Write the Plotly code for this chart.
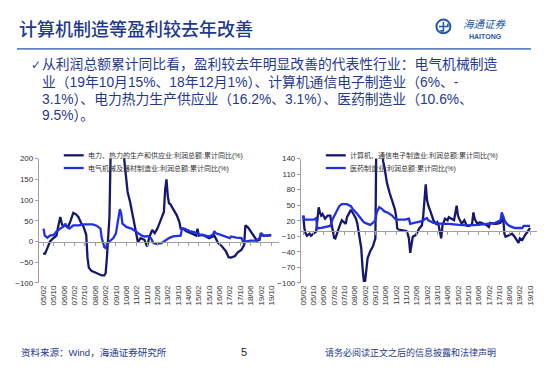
import plotly.graph_objects as go

# ---------------- data ----------------
tick_labels = ["05/02", "05/10", "06/06", "07/02", "07/10", "08/06", "09/02", "09/10",
               "10/06", "11/02", "11/10", "12/06", "13/02", "13/10", "14/06", "15/02",
               "15/10", "16/06", "17/02", "17/10", "18/06", "19/02", "19/10"]
left_y_ticks = [-100, -50, 0, 50, 100, 150, 200]
right_y_ticks = [-100, -70, -40, -10, 20, 50, 80, 110, 140]

name_power = "电力、热力的生产和供应业:利润总额:累计同比(%)"
name_elec = "电气机械及器材制造业:利润总额:累计同比(%)"
name_comp = "计算机、通信电子制造业:利润总额:累计同比(%)"
name_pharm = "医药制造业:利润总额:累计同比(%)"

power_dates = ["2005-02", "2005-03", "2005-05", "2005-07", "2005-10", "2005-12", "2006-01", "2006-03",
               "2006-04", "2006-05", "2006-07", "2006-09", "2006-11", "2007-01", "2007-03", "2007-05",
               "2007-07", "2007-09", "2007-11", "2007-12", "2008-01", "2008-03", "2008-06", "2008-08",
               "2008-11", "2009-01", "2009-02", "2009-03", "2009-04", "2009-05", "2009-07", "2009-10",
               "2010-01", "2010-04", "2010-06", "2010-07", "2010-09", "2010-11", "2011-01", "2011-02",
               "2011-03", "2011-05", "2011-08", "2011-10", "2011-12", "2012-02", "2012-04", "2012-06",
               "2012-09", "2012-11", "2012-12", "2013-01", "2013-02", "2013-03", "2013-04", "2013-06",
               "2013-09", "2013-11", "2013-12", "2014-02", "2014-04", "2014-08", "2014-12", "2015-01",
               "2015-02", "2015-05", "2015-08", "2015-10", "2016-01", "2016-02", "2016-05", "2016-08",
               "2016-11", "2017-01", "2017-03", "2017-06", "2017-08", "2017-11", "2018-01", "2018-02",
               "2018-04", "2018-06", "2018-09", "2018-11", "2019-01", "2019-02", "2019-04", "2019-07",
               "2019-10"]
power_vals = [-27, -31, -16, 0, 9, 14, 31, 59,
              45, 36, 39, 35, 51, 69, 66, 59,
              45, 35, 16, -39, -63, -71, -75, -78,
              -82, -82, -76, -40, 0, 60, 400, 500,
              450, 210, 150, 120, 94, 63, 31, 12,
              -2, 8, 4, -12, 12, 28, 20, 31,
              55, 71, 125, 150, 110, 92, 90, 78,
              63, 47, 31, 31, 25, 20, 14, 31,
              14, 16, 12, 8, 12, 14, -4, -12,
              -24, -38, -39, -35, -27, -20, -9, 39,
              34, 24, 12, 2, 4, 20, 14, 14,
              16]

elec_dates = ["2005-02", "2005-03", "2005-05", "2005-07", "2005-10", "2005-12", "2006-03", "2006-05",
              "2006-07", "2006-08", "2006-10", "2007-01", "2007-05", "2007-09", "2008-01", "2008-04",
              "2008-07", "2008-10", "2008-11", "2009-01", "2009-02", "2009-03", "2009-05", "2009-08",
              "2009-10", "2009-12", "2010-01", "2010-02", "2010-03", "2010-06", "2010-10", "2010-12",
              "2011-03", "2011-06", "2011-08", "2011-11", "2012-01", "2012-03", "2012-05", "2012-09",
              "2013-01", "2013-03", "2013-06", "2013-10", "2013-12", "2014-01", "2014-03", "2014-07",
              "2014-11", "2015-02", "2015-06", "2015-10", "2016-01", "2016-02", "2016-03", "2016-07",
              "2016-11", "2017-02", "2017-03", "2017-07", "2017-11", "2018-01", "2018-02", "2018-06",
              "2018-10", "2019-01", "2019-02", "2019-03", "2019-07", "2019-10"]
elec_vals = [31, 14, 9, 14, 16, 24, 31, 35,
             43, 35, 31, 39, 39, 41, 41, 41,
             38, 31, 8, -14, -16, -8, 0, 8,
             20, 55, 78, 67, 43, 35, 31, 27,
             20, 14, 12, 13, 8, -4, -6, -4,
             4, 8, 12, 14, 14, 31, 31, 25,
             22, 17, 14, 12, 17, 25, 20, 16,
             12, 8, 12, 9, 8, -6, 0, 2,
             2, 8, 20, 14, 14, 15]

comp_dates = ["2005-02", "2005-03", "2005-04", "2005-05", "2005-07", "2005-08", "2005-10", "2005-12",
              "2006-01", "2006-02", "2006-03", "2006-04", "2006-05", "2006-07", "2006-09", "2006-11",
              "2006-12", "2007-02", "2007-03", "2007-04", "2007-06", "2007-08", "2007-10", "2007-11",
              "2007-12", "2008-02", "2008-03", "2008-05", "2008-07", "2008-08", "2008-09", "2008-11",
              "2008-12", "2009-01", "2009-02", "2009-03", "2009-04", "2009-06", "2009-08", "2009-10",
              "2009-11", "2010-01", "2010-03", "2010-04", "2010-05", "2010-07", "2010-09", "2010-11",
              "2011-01", "2011-02", "2011-03", "2011-04", "2011-06", "2011-08", "2011-10", "2011-11",
              "2011-12", "2012-01", "2012-02", "2012-03", "2012-05", "2012-06", "2012-08", "2012-10",
              "2012-11", "2013-01", "2013-02", "2013-03", "2013-05", "2013-06", "2013-07", "2013-09",
              "2013-10", "2013-11", "2013-12", "2014-01", "2014-02", "2014-04", "2014-06", "2014-07",
              "2014-09", "2014-11", "2015-01", "2015-02", "2015-03", "2015-05", "2015-07", "2015-09",
              "2015-11", "2016-01", "2016-02", "2016-03", "2016-05", "2016-07", "2016-10", "2016-12",
              "2017-02", "2017-03", "2017-06", "2017-08", "2017-11", "2017-12", "2018-01", "2018-02",
              "2018-03", "2018-05", "2018-08", "2018-10", "2018-12", "2019-01", "2019-02", "2019-04",
              "2019-06", "2019-07", "2019-10"]
comp_vals = [30, 5, -5, -9, -5, -9, -5, -1,
             21, 46, 36, 30, 33, 24, 30, 30,
             14, -13, -14, -5, 8, 21, 17, 14,
             27, 39, 41, 33, 24, 14, -1, -33,
             -70, -96, -96, -70, -52, -39, -30, -14,
             250, 300, 200, 135, 124, 93, 74, 58,
             43, 30, 5, 3, 2, 2, 0, -5,
             -14, -42, -20, -11, -8, -5, 5, 11,
             27, 90, 60, 50, 36, 30, 21, 14,
             17, 11, -1, -14, 11, 24, 21, 27,
             24, 21, 49, 30, 24, 14, 21, 10,
             10, 14, 36, 24, 14, 17, 14, 12,
             8, 16, 14, 14, 16, 21, 30, -5,
             -11, -9, -5, -11, -20, -23, -14, -17,
             -8, -5, 6]

pharm_dates = ["2005-02", "2005-03", "2005-07", "2005-10", "2005-12", "2006-01", "2006-04", "2006-07",
               "2006-11", "2007-01", "2007-03", "2007-06", "2007-08", "2007-12", "2008-03", "2008-05",
               "2008-08", "2008-11", "2009-01", "2009-04", "2009-06", "2009-08", "2009-10", "2009-11",
               "2010-01", "2010-03", "2010-05", "2010-08", "2010-11", "2011-01", "2011-03", "2011-06",
               "2011-09", "2011-12", "2012-01", "2012-04", "2012-06", "2012-10", "2013-01", "2013-02",
               "2013-03", "2013-07", "2014-02", "2014-07", "2015-03", "2015-10", "2016-06", "2017-02",
               "2017-07", "2017-11", "2017-12", "2018-02", "2018-04", "2018-06", "2018-10", "2019-04",
               "2019-05", "2019-10"]
pharm_vals = [30, 22, 22, 22, 25, 5, 6, 8,
              10, 24, 33, 48, 52, 52, 48, 41,
              33, 24, 17, 14, 12, 16, 21, 36,
              46, 43, 38, 35, 30, 24, 22, 22,
              22, 24, 14, 16, 17, 19, 24, 25,
              21, 16, 14, 14, 12, 11, 12, 14,
              16, 21, 36, 21, 14, 10, 6, 6,
              10, 10]

# ---------------- styling ----------------
W, H = 550, 379
DARK = "#16176F"
BLUE = "#2230E6"
AXIS = "#A0A0A0"
TXT = "#1F3A8F"
LOGO = "#2459A8"
CJK = "Liberation Sans, Noto Sans CJK SC"


def px(X):
    return X / W


def py(Y):
    return 1 - Y / H


tick_vals = ["20%s-%s-01" % (t[:2], t[3:]) for t in tick_labels]
left_range = ["2004-10-13", "2020-04-01"]
right_range = ["2004-12-08", "2020-03-13"]
tickfont = dict(size=8, color="#333333", family="Liberation Sans, Arial")

fig = go.Figure()
fig.add_trace(go.Scatter(x=power_dates, y=power_vals, name=name_power, mode="lines",
                         line=dict(color=DARK, width=2.3), xaxis="x", yaxis="y", showlegend=False))
fig.add_trace(go.Scatter(x=elec_dates, y=elec_vals, name=name_elec, mode="lines",
                         line=dict(color=BLUE, width=2.3), xaxis="x", yaxis="y", showlegend=False))
fig.add_trace(go.Scatter(x=comp_dates, y=comp_vals, name=name_comp, mode="lines",
                         line=dict(color=DARK, width=2.3), xaxis="x2", yaxis="y2", showlegend=False))
fig.add_trace(go.Scatter(x=pharm_dates, y=pharm_vals, name=name_pharm, mode="lines",
                         line=dict(color=BLUE, width=2.3), xaxis="x2", yaxis="y2", showlegend=False))
# empty traces so the zero-line axes are drawn
fig.add_trace(go.Scatter(x=[], y=[], xaxis="x3", yaxis="y", showlegend=False, hoverinfo="skip"))
fig.add_trace(go.Scatter(x=[], y=[], xaxis="x4", yaxis="y2", showlegend=False, hoverinfo="skip"))

ydom = [py(285.7), py(158.3)]

label_axis = dict(type="date", tickmode="array", tickvals=tick_vals, ticktext=tick_labels,
                  tickangle=-90, showline=False, showgrid=False, zeroline=False, ticks="",
                  tickfont=tickfont)
zero_axis = dict(type="date", tickmode="array", tickvals=tick_vals, showticklabels=False,
                 showline=True, linecolor=AXIS, linewidth=1, ticks="outside", ticklen=3,
                 tickcolor=AXIS, showgrid=False, zeroline=False, anchor="free")
y_axis = dict(showline=True, linecolor=AXIS, linewidth=1, ticks="outside", ticklen=3,
              tickcolor=AXIS, showgrid=False, zeroline=False, tickfont=tickfont)

fig.update_layout(
    width=W, height=H, autosize=False,
    margin=dict(l=0, r=0, t=0, b=0),
    paper_bgcolor="white", plot_bgcolor="white",
    xaxis=dict(label_axis, domain=[px(37), px(278)], anchor="y", range=left_range),
    yaxis=dict(y_axis, domain=ydom, anchor="x", range=[-100, 200], tickmode="array",
               tickvals=left_y_ticks),
    xaxis3=dict(zero_axis, overlaying="x", position=py(243.3), range=left_range),
    xaxis2=dict(label_axis, domain=[px(300), px(537)], anchor="y2", range=right_range),
    yaxis2=dict(y_axis, domain=ydom, anchor="x2", range=[-100, 140], tickmode="array",
                tickvals=right_y_ticks),
    xaxis4=dict(zero_axis, overlaying="x2", position=py(232.6), range=right_range),
)

shapes = []
annos = []

# header
annos.append(dict(x=px(15), y=py(25), xref="paper", yref="paper", xanchor="left", yanchor="middle",
                  text="计算机制造等盈利较去年改善", showarrow=False,
                  font=dict(size=18, color=TXT, family="Noto Sans CJK SC", weight=500)))
shapes.append(dict(type="line", xref="paper", yref="paper", x0=px(15), x1=px(531), y0=py(46), y1=py(46),
                   line=dict(color="#5F84BF", width=1.6)))
# logo
shapes.append(dict(type="circle", xref="paper", yref="paper", x0=px(436), x1=px(450), y0=py(30), y1=py(16),
                   line=dict(color=LOGO, width=2)))
shapes.append(dict(type="path", xref="paper", yref="paper",
                   path="M%f,%f L%f,%f L%f,%f M%f,%f L%f,%f L%f,%f" % (
                       px(443), py(18.5), px(443), py(27.5), px(440), py(27.5),
                       px(438.5), py(23), px(447.5), py(23), px(447.5), py(20)),
                   line=dict(color=LOGO, width=1.6)))
annos.append(dict(x=px(461), y=py(20), xref="paper", yref="paper", xanchor="left", yanchor="middle",
                  text="<i>海通证券</i>", showarrow=False,
                  font=dict(size=10.5, color=LOGO, family="Noto Sans CJK SC")))
annos.append(dict(x=px(467), y=py(33), xref="paper", yref="paper", xanchor="left", yanchor="middle",
                  text="<b>HAITONG</b>", showarrow=False,
                  font=dict(size=7, color=LOGO, family="Liberation Sans, Arial")))

# bullet text
annos.append(dict(x=px(27), y=py(62), xref="paper", yref="paper", xanchor="left", yanchor="middle",
                  text="✓", showarrow=False, font=dict(size=12, color=TXT, family="DejaVu Sans")))
bullet_lines = ["从利润总额累计同比看，盈利较去年明显改善的代表性行业：电气机械制造",
                "业（19年10月15%、18年12月1%）、计算机通信电子制造业（6%、-",
                "3.1%）、电力热力生产供应业（16.2%、3.1%）、医药制造业（10.6%、",
                "9.5%）。"]
for Y, line in zip([62, 80, 97, 114], bullet_lines):
    annos.append(dict(x=px(38), y=py(Y), xref="paper", yref="paper", xanchor="left", yanchor="middle",
                      text=line, showarrow=False, font=dict(size=13.8, color=TXT, family=CJK)))

# custom legends
legend_items = [(62, 155, DARK, name_power), (62, 168, BLUE, name_elec),
                (325, 155, DARK, name_comp), (325, 168, BLUE, name_pharm)]
for X, Y, col, txt in legend_items:
    shapes.append(dict(type="line", xref="paper", yref="paper", x0=px(X), x1=px(X + 20), y0=py(Y), y1=py(Y),
                       line=dict(color=col, width=2.3)))
    annos.append(dict(x=px(X + 22), y=py(Y), xref="paper", yref="paper", xanchor="left", yanchor="middle",
                      text=txt, showarrow=False, font=dict(size=7, color="#333333", family=CJK)))

# footer
annos.append(dict(x=px(17), y=py(357), xref="paper", yref="paper", xanchor="left", yanchor="middle",
                  text="资料来源：Wind，海通证券研究所", showarrow=False,
                  font=dict(size=9.5, color=TXT, family=CJK)))
annos.append(dict(x=px(243), y=py(356), xref="paper", yref="paper", xanchor="center", yanchor="middle",
                  text="5", showarrow=False, font=dict(size=11, color="#222222", family="Liberation Sans, Arial")))
annos.append(dict(x=px(498), y=py(357), xref="paper", yref="paper", xanchor="right", yanchor="middle",
                  text="请务必阅读正文之后的信息披露和法律声明", showarrow=False,
                  font=dict(size=9, color=TXT, family=CJK)))

fig.update_layout(shapes=shapes, annotations=annos)
fig.write_html("out.html", config={"displayModeBar": False},
               post_script="document.body.style.margin='0px';document.body.style.padding='0px';"
                           "document.documentElement.style.overflow='hidden';")
